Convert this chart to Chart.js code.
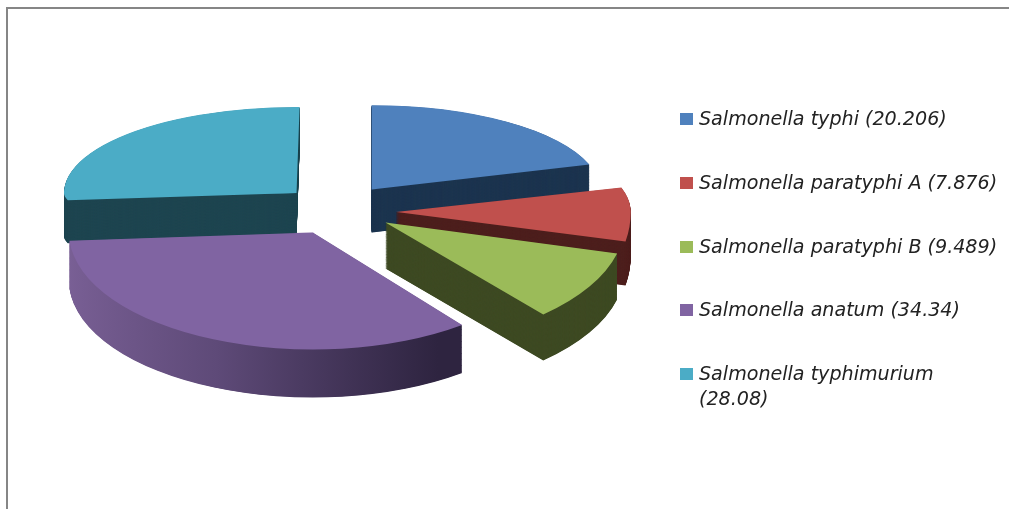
<!DOCTYPE html>
<html>
<head>
<meta charset="utf-8">
<script src="https://cdn.jsdelivr.net/npm/chart.js@4"></script>
<style>
  html, body { margin: 0; background: #fff; }
  #wrap { position: relative; width: 1009px; height: 509px; overflow: hidden; }
  #frame { position: absolute; left: 6px; top: 7px; width: 1010px; height: 510px;
           border-top: 2px solid #868686; border-left: 2px solid #868686; }
  canvas { position: absolute; left: 0; top: 0; }
  .key { position: absolute; left: 680px; width: 13px; height: 12px; }
  .name { position: absolute; left: 699px; width: 302px; font: italic 19.1px/25px "DejaVu Sans", sans-serif; color: #222; }
</style>
</head>
<body>
<div id="wrap">
  <div id="frame"></div>
  <canvas id="pie" width="1009" height="509"></canvas>
</div>
<script>
const categories = ["Salmonella typhi", "Salmonella paratyphi A", "Salmonella paratyphi B", "Salmonella anatum", "Salmonella typhimurium"];
const values = [20.206, 7.876, 9.489, 34.34, 28.08];
const valueLabels = ["20.206", "7.876", "9.489", "34.34", "28.08"];
const topColors = ["#4f81bd", "#c0504d", "#9bbb59", "#8064a2", "#4bacc6"];
const wallColors = ["#1c344f", "#4d1f1d", "#3e4a23", "#8064a2", "#1e4550"];

// legend rows, the last name wraps onto a second line
const legendTops = [119, 183, 247, 310, 374];
categories.forEach((name, i) => {
  const key = document.createElement("div");
  key.className = "key";
  key.style.top = (legendTops[i] - 6) + "px";
  key.style.background = topColors[i];
  const text = document.createElement("div");
  text.className = "name";
  text.style.top = (legendTops[i] - 13) + "px";
  text.textContent = name + " (" + valueLabels[i] + ")";
  document.getElementById("wrap").append(key, text);
});

// camera: where the flat pie centre lands and how far slices pull apart
const centerX = 339, centerY = 206;
const explode = 55;
const backScale = 0.37;
// perspective is faked slice by slice: nearer slices drop, widen and turn a little
const viewDrop = [0, 7, 7, 7, 0];
const viewSquash = [0.37, 0.6, 0.51, 0.48, 0.17];
const viewDepth = [43, 44, 46, 48, 43];
const viewGrow = [1, 1.03, 1.05, 1.07, 1.02];
const viewTurn = [0, 1, 3.5, 7, 0.75];
const viewShiftX = [0, 2, -2, -10, 0];
const drawOrder = [4, 0, 1, 2, 3];

function drawTilted(ctx, arc, i, t) {
  const mid = (arc.startAngle + arc.endAngle) / 2;
  const shiftX = Math.cos(mid) * explode + viewShiftX[i];
  const shiftY = Math.sin(mid) * explode * backScale + viewDrop[i];
  [[backScale, true], [viewSquash[i], false]].forEach(([scale, upper]) => {
    ctx.save();
    ctx.translate(centerX + shiftX, centerY + shiftY + t * viewDepth[i]);
    ctx.scale(1, scale);
    ctx.beginPath();
    if (upper) ctx.rect(-600, -800, 1200, 800.5);
    else ctx.rect(-600, 0, 1200, 800);
    ctx.clip();
    ctx.rotate(viewTurn[i] * Math.PI / 180);
    ctx.scale(viewGrow[i], viewGrow[i]);
    ctx.translate(-arc.x, -arc.y);
    arc.draw(ctx);
    ctx.restore();
  });
}

const tiltedPie = {
  id: "tiltedPie",
  beforeDatasetsDraw(chart) {
    const ctx = chart.ctx;
    const arcs = chart.getDatasetMeta(0).data;
    // the big slice's rim darkens towards the right
    const rim = ctx.createLinearGradient(arcs[3].x - 230, 0, arcs[3].x + 140, 0);
    rim.addColorStop(0, "#7a6096");
    rim.addColorStop(0.45, "#5e4a78");
    rim.addColorStop(1, "#2e2440");
    drawOrder.forEach(i => {
      const arc = arcs[i];
      const opts = arc.options;
      arc.options = Object.assign({}, opts, { backgroundColor: i === 3 ? rim : wallColors[i] });
      for (let d = 100; d > 0; d--) drawTilted(ctx, arc, i, d / 100);
      arc.options = opts;
      drawTilted(ctx, arc, i, 0);
    });
    return false;
  }
};

new Chart(document.getElementById("pie"), {
  type: "pie",
  data: {
    labels: categories,
    datasets: [{
      data: values,
      backgroundColor: topColors,
      borderWidth: 0
    }]
  },
  options: {
    responsive: false,
    animation: false,
    radius: 228,
    plugins: { legend: { display: false }, tooltip: { enabled: false } }
  },
  plugins: [tiltedPie]
});
</script>
</body>
</html>
